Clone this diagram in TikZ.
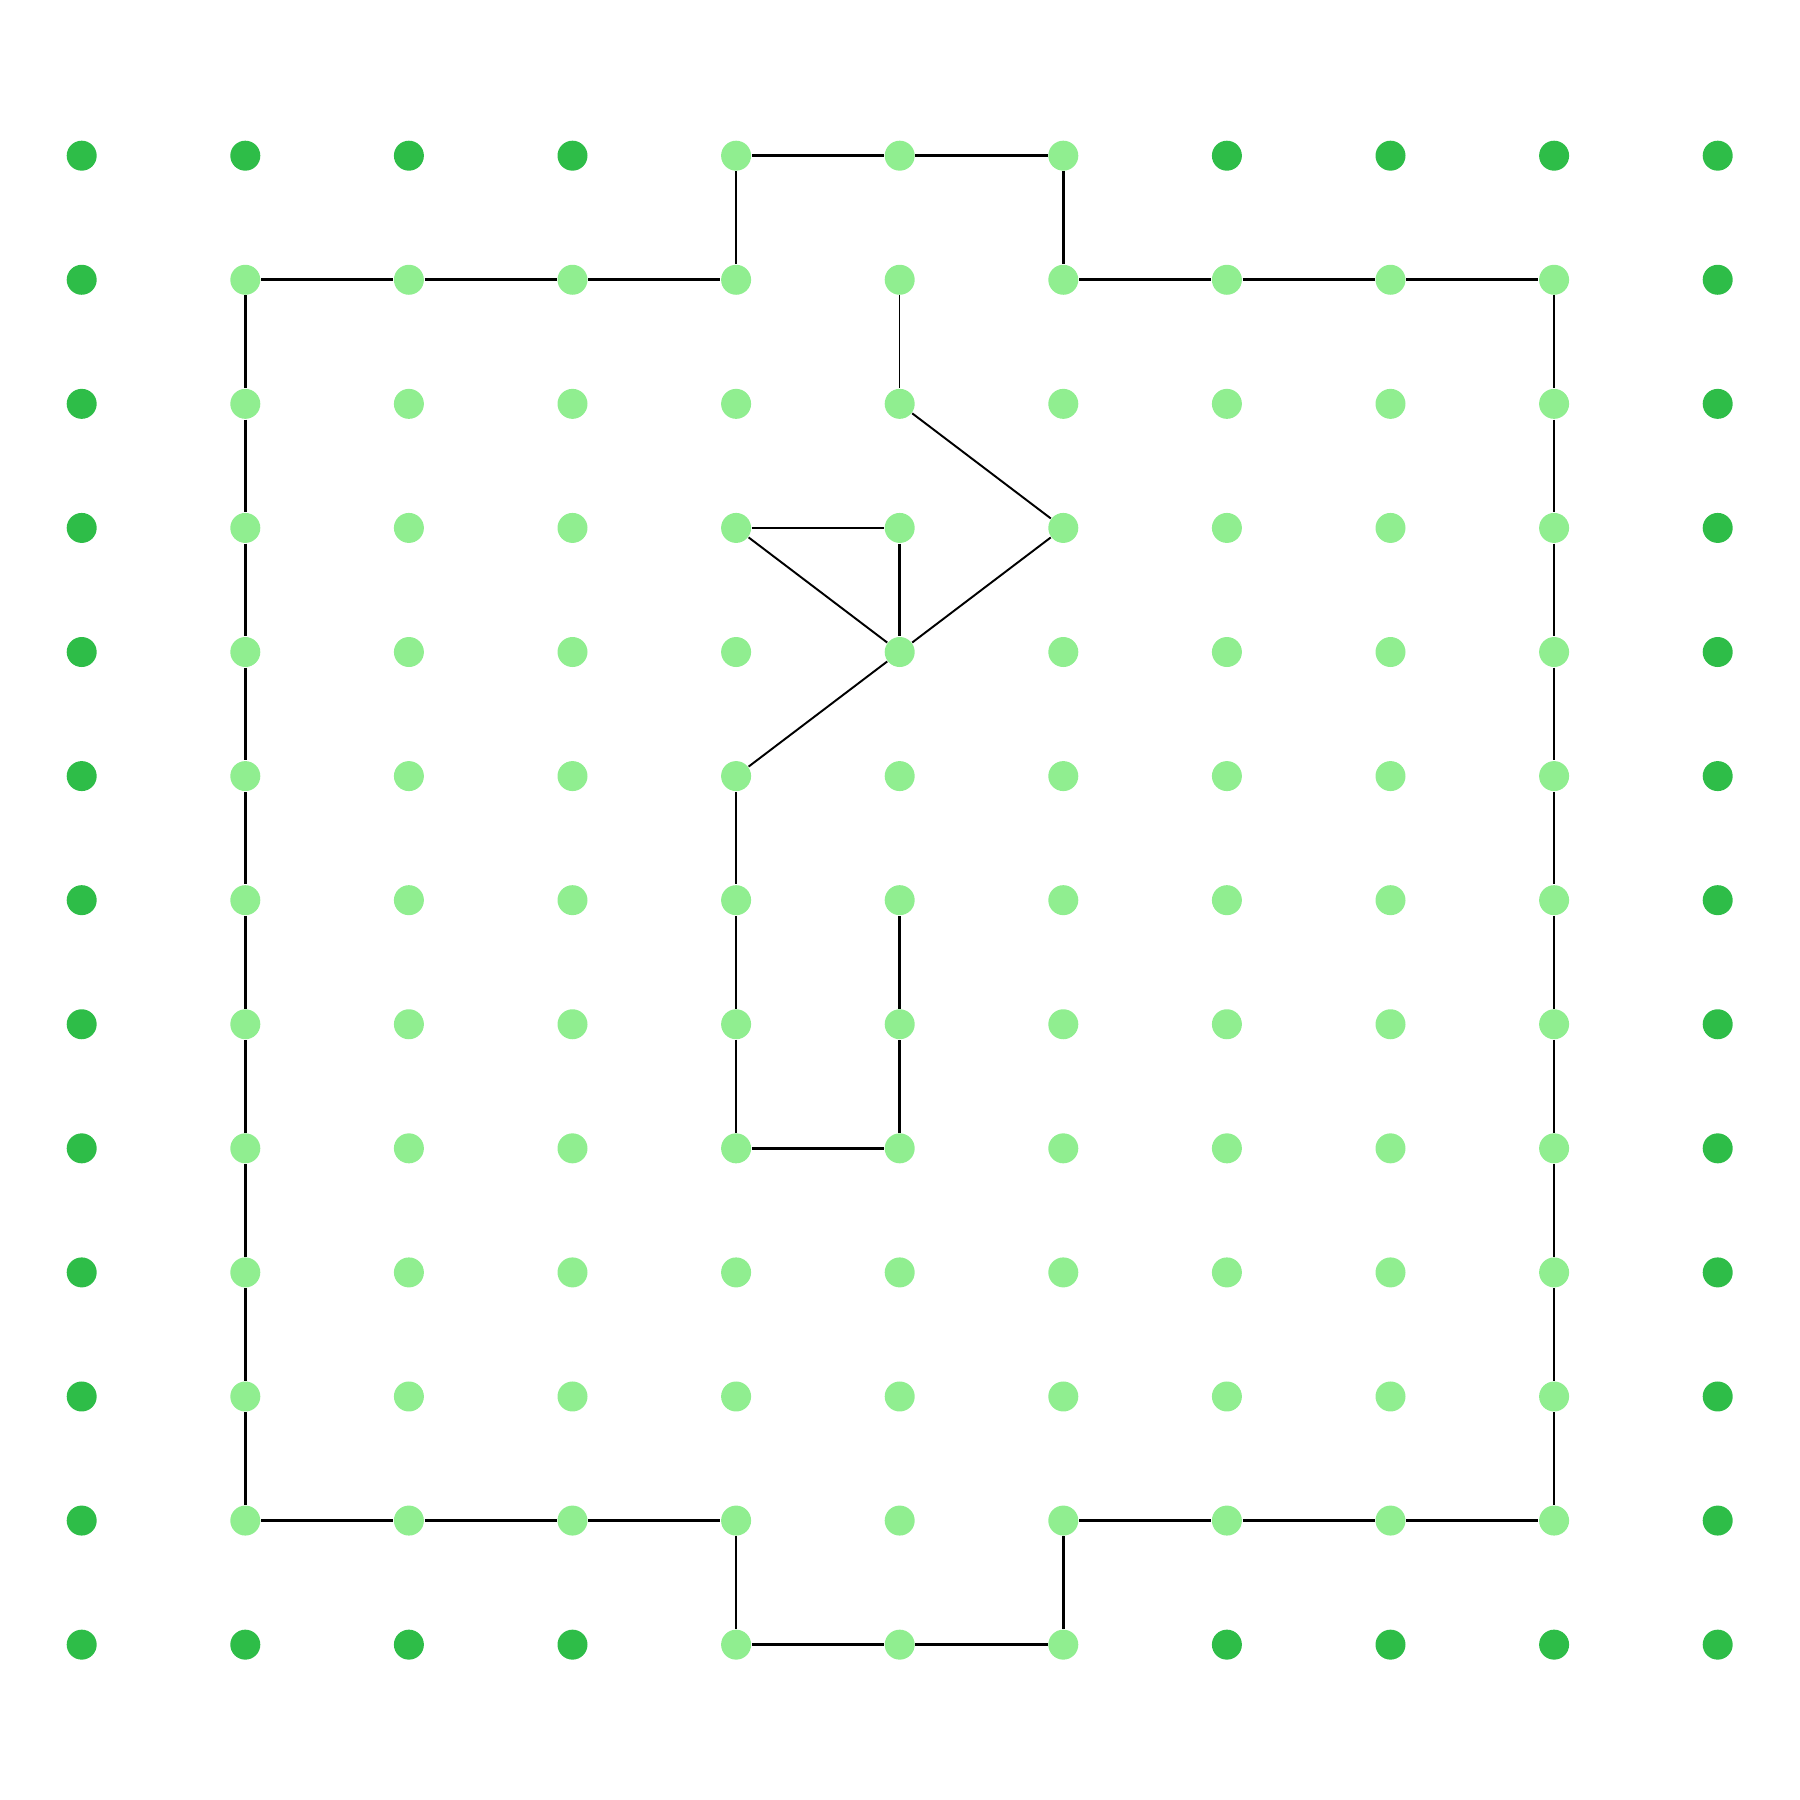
\documentclass[tikz,border=0pt]{standalone}
\usepackage{tikz}

\definecolor{outergreen}{RGB}{46,189,72}
\definecolor{innergreen}{RGB}{144,238,144}

\begin{document}
\begin{tikzpicture}[
  dot/.style={circle, fill, draw=none, inner sep=0pt, minimum size=0.3cm},
  outerdot/.style={dot, fill=outergreen},
  innerdot/.style={dot, fill=innergreen},
  wall/.style={line width=0.75pt},
  seam/.style={line width=0.55pt},
  hair/.style={line width=0.35pt}
]
\useasboundingbox (0,0) rectangle (18,18);

% grid of points, n<col>-<row>, row 0 at the top
\foreach \c in {0,...,10}{
  \foreach \r in {0,...,12}{
    \pgfmathtruncatemacro\edge{or(or(\c==0,\c==10),and(or(\r==0,\r==12),or(\c<4,\c>6)))}
    \ifnum\edge=1
      \node[outerdot] (n\c-\r) at ({0.817+1.636*\c},{16.443-1.2408*\r}) {};
    \else
      \node[innerdot] (n\c-\r) at ({0.817+1.636*\c},{16.443-1.2408*\r}) {};
    \fi
  }
}

% outline
\draw[wall] (n1-1) -- (n2-1) -- (n3-1) -- (n4-1) -- (n4-0) -- (n5-0) -- (n6-0) -- (n6-1) -- (n7-1) -- (n8-1) -- (n9-1);
\foreach \r [evaluate=\r as \s using int(\r+1)] in {1,...,10}{
  \draw[wall] (n1-\r) -- (n1-\s);
  \draw[wall] (n9-\r) -- (n9-\s);
}
\draw[wall] (n1-11) -- (n2-11) -- (n3-11) -- (n4-11) -- (n4-12) -- (n5-12) -- (n6-12) -- (n6-11) -- (n7-11) -- (n8-11) -- (n9-11);

% inner strokes
\draw[hair] (n5-1) -- (n5-2);
\draw[seam] (n5-2) -- (n6-3);
\draw[seam] (n6-3) -- (n5-4);
\draw[seam] (n5-4) -- (n4-5);
\draw[wall] (n4-3) -- (n5-3);
\draw[wall] (n5-3) -- (n5-4);
\draw[seam] (n4-3) -- (n5-4);
\draw[wall] (n4-5) -- (n4-6);
\draw[wall] (n4-6) -- (n4-7);
\draw[wall] (n4-7) -- (n4-8);
\draw[wall] (n4-8) -- (n5-8);
\draw[wall] (n5-8) -- (n5-7);
\draw[wall] (n5-7) -- (n5-6);

\end{tikzpicture}
\end{document}
